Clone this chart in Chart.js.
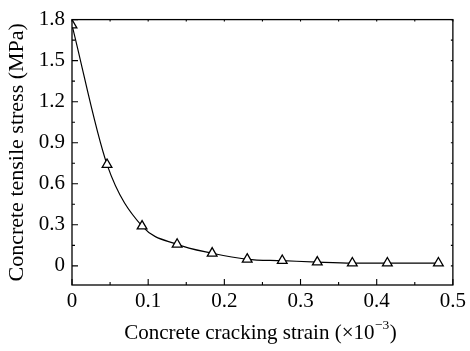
<!DOCTYPE html>
<html>
<head>
<meta charset="utf-8">
<script src="https://cdn.jsdelivr.net/npm/chart.js@4/dist/chart.umd.min.js"></script>
<style>
html,body{margin:0;padding:0;background:#fff;}
#wrap{width:470px;height:351px;}
</style>
</head>
<body>
<div id="wrap"><canvas id="c" width="470" height="351"></canvas></div>
<script>
// Data
const strain = [0, 0.046, 0.092, 0.138, 0.184, 0.23, 0.276, 0.322, 0.368, 0.414, 0.481];
const stress = [1.76, 0.74, 0.29, 0.157, 0.092, 0.048, 0.038, 0.027, 0.02, 0.02, 0.02];
const xTicks = [0, 0.1, 0.2, 0.3, 0.4, 0.5];
const yTicks = [0, 0.3, 0.6, 0.9, 1.2, 1.5, 1.8];
const xMinor = [0.05, 0.15, 0.25, 0.35, 0.45];
const yMinor = [0.15, 0.45, 0.75, 1.05, 1.35, 1.65];
const xLabels = ['0', '0.1', '0.2', '0.3', '0.4', '0.5'];
const yLabels = ['0', '0.3', '0.6', '0.9', '1.2', '1.5', '1.8'];
const xTitleMain = 'Concrete cracking strain (\u00d710';
const xTitleSup = '\u22123';
const xTitleEnd = ')';
const yTitle = 'Concrete tensile stress (MPa)';

const FONT = '"Liberation Serif", "Times New Roman", serif';

const framePlugin = {
  id: 'frame',
  afterDatasetsDraw(chart) {
    const ctx = chart.ctx;
    const a = chart.chartArea;
    const xs = chart.scales.x, ys = chart.scales.y;
    ctx.save();
    ctx.strokeStyle = '#000';
    ctx.lineWidth = 1.3;
    ctx.strokeRect(a.left, a.top, a.right - a.left, a.bottom - a.top);
    ctx.lineWidth = 1.1;
    ctx.beginPath();
    xTicks.forEach(v => {
      const px = xs.getPixelForValue(v);
      ctx.moveTo(px, a.bottom); ctx.lineTo(px, a.bottom - 6);
      ctx.moveTo(px, a.top); ctx.lineTo(px, a.top + 2);
    });
    xMinor.forEach(v => {
      const px = xs.getPixelForValue(v);
      ctx.moveTo(px, a.bottom); ctx.lineTo(px, a.bottom - 3);
      ctx.moveTo(px, a.top); ctx.lineTo(px, a.top + 2);
    });
    yTicks.forEach(v => {
      const py = ys.getPixelForValue(v);
      ctx.moveTo(a.left, py); ctx.lineTo(a.left + 6, py);
      ctx.moveTo(a.right, py); ctx.lineTo(a.right - 2, py);
    });
    yMinor.forEach(v => {
      const py = ys.getPixelForValue(v);
      ctx.moveTo(a.left, py); ctx.lineTo(a.left + 3, py);
      ctx.moveTo(a.right, py); ctx.lineTo(a.right - 2, py);
    });
    ctx.stroke();

    // x title with superscript
    ctx.fillStyle = '#000';
    ctx.textBaseline = 'alphabetic';
    ctx.textAlign = 'left';
    const big = '21px ' + FONT, small = '13.5px ' + FONT;
    ctx.font = big;
    const w1 = ctx.measureText(xTitleMain).width;
    ctx.font = small;
    const w2 = ctx.measureText(xTitleSup).width;
    ctx.font = big;
    const w3 = ctx.measureText(xTitleEnd).width;
    const total = w1 + w2 + w3 + 1;
    let x0 = 260.5 - total / 2;
    const base = 339;
    ctx.font = big;
    ctx.fillText(xTitleMain, x0, base);
    ctx.font = small;
    ctx.fillText(xTitleSup, x0 + w1 + 0.5, base - 10);
    ctx.font = big;
    ctx.fillText(xTitleEnd, x0 + w1 + w2 + 1, base);
    ctx.restore();
  }
};

new Chart(document.getElementById('c'), {
  type: 'line',
  data: {
    datasets: [{
      data: strain.map((x, i) => ({x: x, y: stress[i]})),
      borderColor: '#000',
      borderWidth: 1.2,
      cubicInterpolationMode: 'monotone',
      pointStyle: 'triangle',
      pointRadius: 5.6,
      pointBorderWidth: 1.3,
      pointBackgroundColor: '#fff',
      pointBorderColor: '#000',
      fill: false
    }]
  },
  options: {
    responsive: false,
    devicePixelRatio: 1,
    animation: false,
    events: [],
    layout: {padding: {top: 17, right: 13, left: 0, bottom: 0}},
    plugins: {legend: {display: false}, tooltip: {enabled: false}, title: {display: false}},
    scales: {
      x: {
        type: 'linear',
        min: 0, max: 0.5,
        afterBuildTicks: s => { s.ticks = xTicks.map(v => ({value: v})); },
        afterFit: s => { s.height = 351 - 285; },
        grid: {display: false, drawTicks: false},
        border: {display: false},
        ticks: {
          color: '#000',
          font: {family: FONT, size: 21},
          padding: 4,
          maxRotation: 0,
          callback: (v) => { const i = xTicks.indexOf(v); return i >= 0 ? xLabels[i] : ''; }
        }
      },
      y: {
        type: 'linear',
        min: -0.14, max: 1.8,
        afterBuildTicks: s => { s.ticks = yTicks.map(v => ({value: v})); },
        afterFit: s => { s.width = 72; },
        grid: {display: false, drawTicks: false},
        border: {display: false},
        title: {
          display: true,
          text: yTitle,
          color: '#000',
          font: {family: FONT, size: 22, weight: 'normal'},
          padding: {top: 4, bottom: 0}
        },
        ticks: {
          color: '#000',
          font: {family: FONT, size: 21},
          padding: 7,
          callback: (v) => { const i = yTicks.indexOf(v); return i >= 0 ? yLabels[i] : ''; }
        }
      }
    }
  },
  plugins: [framePlugin]
});
</script>
</body>
</html>
